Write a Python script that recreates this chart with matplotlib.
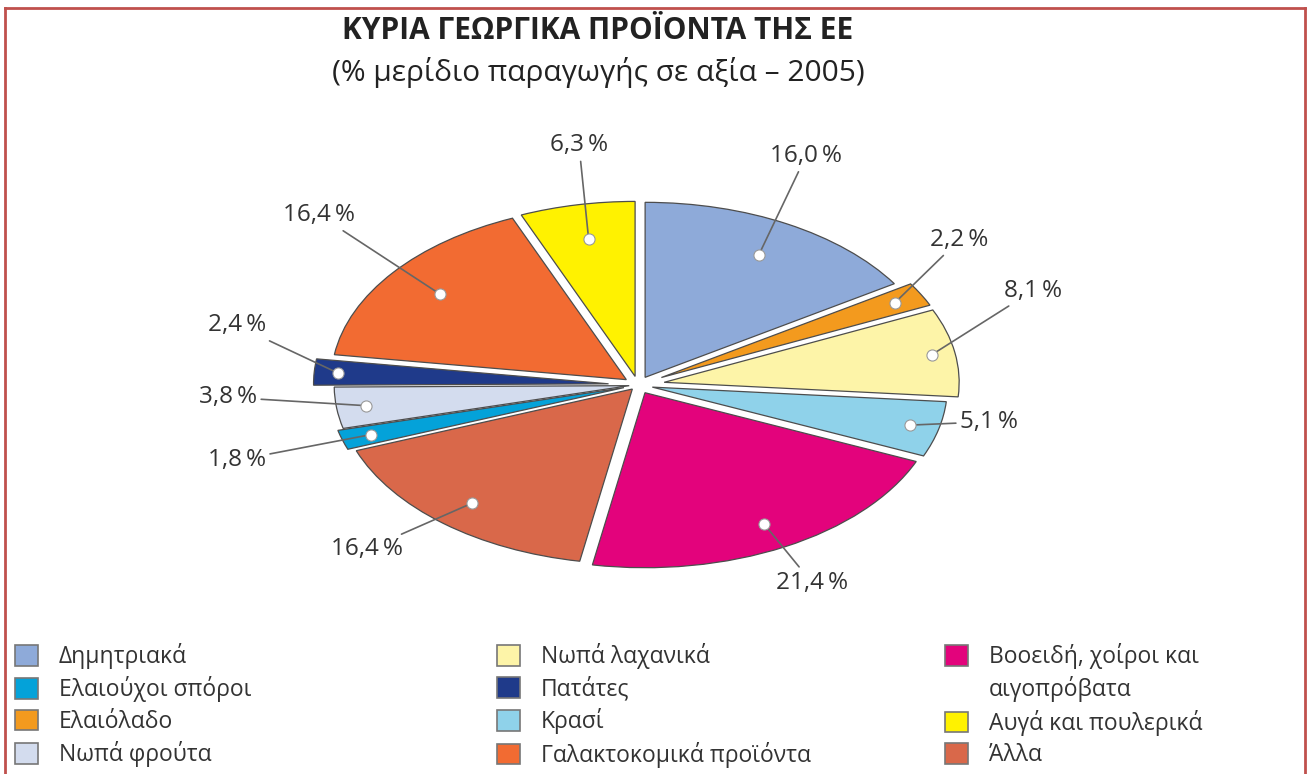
import matplotlib
matplotlib.use('Agg')
from matplotlib import pyplot as plt
from matplotlib.patches import Patch
from matplotlib.lines import Line2D
import numpy as np

plt.rcParams['font.family'] = ['Open Sans', 'Noto Sans', 'DejaVu Sans']

# slices, clockwise from 12 o'clock
names = ['Δημητριακά', 'Ελαιόλαδο', 'Νωπά λαχανικά', 'Κρασί',
         'Βοοειδή, χοίροι και αιγοπρόβατα', 'Άλλα', 'Ελαιούχοι σπόροι',
         'Νωπά φρούτα', 'Πατάτες', 'Γαλακτοκομικά προϊόντα',
         'Αυγά και πουλερικά']
shares = [16.0, 2.2, 8.1, 5.1, 21.4, 16.4, 1.8, 3.8, 2.4, 16.4, 6.3]
colors = ['#8eaad9', '#f39a1e', '#fdf4a8', '#8fd2ea', '#e3037c', '#d9684a',
          '#04a2d9', '#d3dcee', '#1f3a8a', '#f26b32', '#fff200']

# legend columns (indices into names)
legend_cols = [[0, 6, 1, 7], [2, 8, 3, 9], [4, 10, 5]]

# layout
explode = [0.05, 0.09, 0.09, 0.05, 0.05, 0.03, 0.05, 0.03, 0.1, 0.05, 0.05]
label_xy = [(0.57, 1.31), (1.09, 0.83), (1.34, 0.54), (1.19, -0.21),
            (0.59, -1.13), (-0.92, -0.94), (-1.36, -0.43), (-1.39, -0.07),
            (-1.36, 0.34), (-1.08, 0.97), (-0.20, 1.37)]
dot_r = [0.8, 0.9, 0.92, 0.9, 0.85, 0.85, 0.9, 0.9, 0.92, 0.8, 0.8]

fig = plt.figure(figsize=(13.1, 7.74), dpi=100)
ax = fig.add_axes([178/1310, 144/774, 920/1310, 490/774])

wedges, _ = ax.pie(shares, explode=explode, colors=colors, startangle=90,
                   counterclock=False,
                   wedgeprops=dict(edgecolor='#4d4d4d', linewidth=0.9))
ax.set_aspect('auto')
ax.set_xlim(-460/295, 460/295)
ax.set_ylim(-245/175, 245/175)
ax.axis('off')

for w, val, (lx, ly), rr in zip(wedges, shares, label_xy, dot_r):
    mid = np.deg2rad((w.theta1 + w.theta2) / 2)
    cx, cy = w.center
    px = cx + w.r * rr * np.cos(mid)
    py = cy + w.r * rr * np.sin(mid)
    txt = f'{val:.1f}'.replace('.', ',') + '\u2009%'
    ax.annotate(txt, xy=(px, py), xytext=(lx, ly), ha='center', va='center',
                fontsize=17.5, color='#333333', annotation_clip=False,
                arrowprops=dict(arrowstyle='-', color='#666666', lw=1.2,
                                shrinkA=1, shrinkB=0))
    ax.plot(px, py, 'o', ms=8, mfc='white', mec='#999999', mew=0.8,
            zorder=5, clip_on=False)

# title
fig.text(598/1310, 1 - 31/774, 'ΚΥΡΙΑ ΓΕΩΡΓΙΚΑ ΠΡΟΪΟΝΤΑ ΤΗΣ ΕΕ',
         ha='center', va='center', fontsize=21.5, fontweight='bold',
         color='#222222')
fig.text(598/1310, 1 - 73/774, '(% μερίδιο παραγωγής σε αξία – 2005)',
         ha='center', va='center', fontsize=21.5, color='#222222')

# legend, three columns; long label split over two rows
col_x = [6, 488, 936]
for cx, idx in zip(col_x, legend_cols):
    handles, texts = [], []
    for i in idx:
        lab = names[i]
        if len(lab) > 25:
            first, second = lab.rsplit(' ', 1)
            handles += [Patch(facecolor=colors[i], edgecolor='#777777',
                              linewidth=1.2),
                        Patch(facecolor='none', edgecolor='none')]
            texts += [first, second]
        else:
            handles.append(Patch(facecolor=colors[i], edgecolor='#777777',
                                 linewidth=1.2))
            texts.append(lab)
    fig.legend(handles, texts, loc='upper left',
               bbox_to_anchor=(cx/1310, 1 - 634/774), frameon=False,
               fontsize=16.5, handlelength=1.0, handleheight=1.0,
               handletextpad=0.9, labelspacing=0.32, borderaxespad=0,
               labelcolor='#333333')

# red frame
red = '#c0504d'
fig.add_artist(Line2D([5/1310, 5/1310], [0, 1 - 8/774], color=red, lw=2))
fig.add_artist(Line2D([1305/1310, 1305/1310], [0, 1 - 8/774], color=red, lw=2))
fig.add_artist(Line2D([5/1310, 1305/1310], [1 - 8/774, 1 - 8/774], color=red, lw=2))

fig.savefig('out.png', dpi=100)
